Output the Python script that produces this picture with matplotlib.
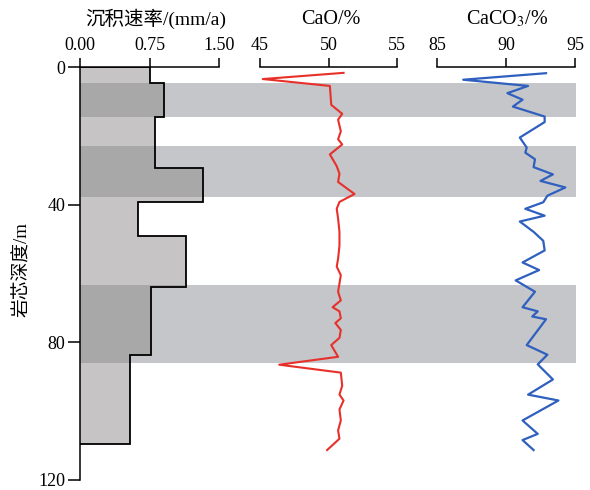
import numpy as np
import matplotlib
matplotlib.use('Agg')
import matplotlib.pyplot as plt

plt.rcParams['font.family'] = ['Liberation Serif', 'Noto Sans CJK SC']
plt.rcParams['mathtext.fontset'] = 'stix'

# sedimentation rate (step histogram)
rate_edges = [0, 4.6, 14.4, 29.3, 39.2, 49.0, 63.8, 83.7, 109.4]
rate_vals = [0.76, 0.91, 0.81, 1.33, 0.63, 1.14, 0.77, 0.54]

# gray bands (depth ranges, m)
band_top = [4.6, 23.0, 63.2]
band_bot = [14.4, 37.8, 86.0]

# CaO profile
cao_depth = [1.7, 3.5, 5.5, 11, 13.6, 15.3, 18.7, 21, 22.5, 25.4,
             28.8, 31, 33.4, 36.9, 39.2, 41.2, 44, 47.9, 51.9, 55.7,
             58, 60.5, 62.9, 65.3, 67.8, 69.8, 71, 73, 74.4, 76.4,
             78.7, 80.8, 84.2, 86.5, 88.8, 92.6, 95.2, 96.9, 99.5, 102.7,
             105.6, 108, 111.3]
cao = [51.1, 45.2, 50.1, 50.2, 51.0, 50.7, 50.9, 50.7, 51.0, 50.1,
       50.6, 50.8, 50.7, 51.9, 50.8, 50.6, 50.7, 50.8, 50.8, 50.7,
       50.6, 50.9, 50.8, 50.7, 50.9, 50.3, 50.8, 50.9, 50.5, 50.9,
       50.8, 50.2, 50.7, 46.4, 50.9, 51.0, 50.8, 51.1, 50.8, 50.9,
       50.7, 50.8, 49.9]

# CaCO3 profile
caco3_depth = [1.8, 3.7, 5.5, 7.6, 9.5, 11.5, 14.4, 16, 20.5, 23.4,
               24.9, 26.8, 29.1, 31.2, 33.1, 35, 37.4, 39.3, 41.2, 43.2,
               44.9, 47.9, 50.5, 53.3, 56.8, 59, 62, 65.3, 69.8, 71,
               72.5, 73.3, 80.8, 83.6, 86.4, 90.8, 95.2, 96.9, 102.7, 106.6,
               108.4, 111.3]
caco3 = [92.9, 86.9, 91.6, 90.1, 91.2, 90.5, 92.8, 92.8, 91.0, 91.5,
         91.4, 92.1, 92.0, 93.4, 92.5, 94.3, 93.0, 92.7, 91.4, 92.8,
         91.0, 92.0, 92.7, 92.8, 91.2, 92.4, 90.7, 92.1, 91.2, 92.3,
         91.9, 92.9, 91.5, 93.0, 92.3, 93.4, 91.6, 93.8, 91.2, 92.3,
         91.2, 92.0]

W, H = 590.0, 490.0
fig = plt.figure(figsize=(5.9, 4.9), dpi=100)

y0 = 67  # pixel row of depth 0
y1 = 480  # pixel row of depth 120
bot = 1 - y1 / H
hgt = (y1 - y0) / H

def pos(xa, xb):
    return [xa / W, bot, (xb - xa) / W, hgt]

# background axes with the bands
bg = fig.add_axes(pos(80, 576))
bg.set_ylim(120, 0)
bg.set_xlim(0, 1)
for a, b in zip(band_top, band_bot):
    bg.axhspan(a, b, color='#c4c6c9', lw=0)
bg.axis('off')

ax1 = fig.add_axes(pos(80, 219))
ax2 = fig.add_axes(pos(260, 397))
ax3 = fig.add_axes(pos(437, 575))

for ax in (ax1, ax2, ax3):
    ax.patch.set_visible(False)
    ax.set_ylim(120, 0)
    ax.xaxis.tick_top()
    for s in ('right', 'bottom', 'left'):
        ax.spines[s].set_visible(False)
    ax.spines['top'].set_linewidth(1.1)
    ax.tick_params(axis='x', direction='out', length=6.5, width=1.1,
                   pad=3, labelsize=13)
    ax.tick_params(axis='y', left=False, labelleft=False)

# histogram panel
ax1.stairs(rate_vals, rate_edges, orientation='horizontal', baseline=0,
           fill=True, color='#8f8b8b', alpha=0.5, lw=0)
ax1.stairs(rate_vals, rate_edges, orientation='horizontal', baseline=0,
           fill=False, color='black', lw=1.3)
ax1.set_xlim(0, 1.5)
ax1.set_xticks([0, 0.75, 1.5])
ax1.set_xticklabels(['0.00', '0.75', '1.50'])
ax1.spines['left'].set_visible(True)
ax1.spines['left'].set_linewidth(1.1)
ax1.tick_params(axis='y', left=True, labelleft=True, direction='out',
                length=8.5, width=1.1, pad=2, labelsize=13)
ax1.set_yticks([0, 40, 80, 120])

# CaO panel
ax2.plot(cao, cao_depth, color='#e8302a', lw=1.5)
ax2.set_xlim(45, 55)
ax2.set_xticks([45, 50, 55])

# CaCO3 panel
ax3.plot(caco3, caco3_depth, color='#2f5fbf', lw=1.6)
ax3.set_xlim(85, 95)
ax3.set_xticks([85, 90, 95])

# titles
fig.text(156 / W, 1 - 19 / H, '沉积速率/(mm/a)', ha='center', va='center', fontsize=14)
fig.text(331 / W, 1 - 19 / H, 'CaO/%', ha='center', va='center', fontsize=14.5)
fig.text(507 / W, 1 - 19 / H, 'CaCO$_3$/%', ha='center', va='center', fontsize=14.5)
fig.text(22 / W, 1 - 270 / H, '岩芯深度/m', ha='center', va='center',
         rotation=90, fontsize=13.5)

fig.savefig('out.png', dpi=100)
